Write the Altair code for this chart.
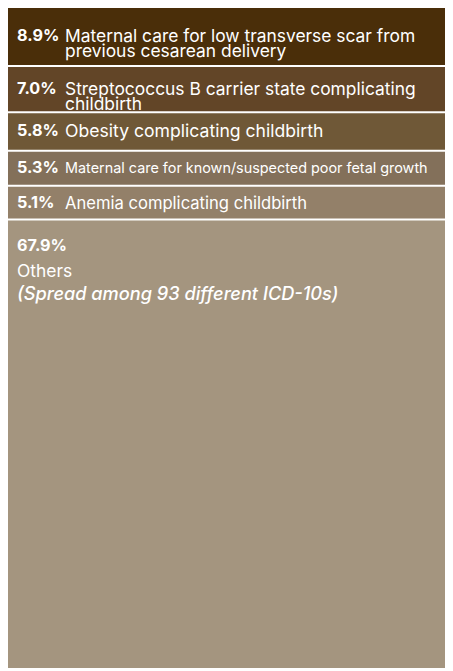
import altair as alt
import pandas as pd

categories = [
    "Maternal care for low transverse scar from\nprevious cesarean delivery",
    "Streptococcus B carrier state complicating\nchildbirth",
    "Obesity complicating childbirth",
    "Maternal care for known/suspected poor fetal growth",
    "Anemia complicating childbirth",
    "Others",
]
shares = [8.9, 7.0, 5.8, 5.3, 5.1, 67.9]
pct_labels = ["8.9%", "7.0%", "5.8%", "5.3%", "5.1%", "67.9%"]
colors = ["#4a2e09", "#624527", "#6f5837", "#83705a", "#938069", "#a4957f"]
label_sizes = [17.4, 17.4, 17.6, 14.4, 16.6, 17.4]
others_note = "(Spread among 93 different ICD-10s)"

rows = []
acc = 0.0
for i, (c, s, p, col, ls) in enumerate(zip(categories, shares, pct_labels, colors, label_sizes)):
    rows.append(dict(order=i, category=c, share=s, pct=p, color=col, lsize=ls,
                     start=acc, end=acc + s, mid=acc + s / 2,
                     note=others_note if c == "Others" else ""))
    acc += s
df = pd.DataFrame(rows)

W, H = 437, 662
yscale = alt.Scale(domain=[0, 100], range=[0, H])
FONT = "Inter"

base = alt.Chart(df)

rects = base.mark_rect(y2Offset=-2).encode(
    x=alt.value(0), x2=alt.value(W),
    y=alt.Y("start:Q", scale=yscale, axis=None),
    y2="end:Q",
    color=alt.Color("color:N", scale=None, legend=None),
)

top5 = base.transform_filter(alt.datum.order < 5)

pct_text = top5.mark_text(align="left", baseline="middle", font=FONT, fontWeight="bold",
                          fontSize=16.2, color="white", dy=-1).encode(
    x=alt.value(9),
    y=alt.Y("mid:Q", scale=yscale),
    text="pct:N",
)

lab_text = top5.mark_text(align="left", baseline="middle", font=FONT, color="white",
                          lineBreak="\n", lineHeight=15, dy=0).encode(
    x=alt.value(57),
    y=alt.Y("mid:Q", scale=yscale),
    text="category:N",
    size=alt.Size("lsize:Q", scale=None, legend=None),
)

oth = base.transform_filter(alt.datum.order == 5)
oth_pct = oth.mark_text(align="left", baseline="alphabetic", font=FONT, fontWeight="bold",
                        fontSize=16.2, color="white", dy=30).encode(
    x=alt.value(9), y=alt.Y("start:Q", scale=yscale), text="pct:N")
oth_lab = oth.mark_text(align="left", baseline="alphabetic", font=FONT,
                        fontSize=17.4, color="white", dy=56).encode(
    x=alt.value(9), y=alt.Y("start:Q", scale=yscale), text="category:N")
oth_note = oth.mark_text(align="left", baseline="alphabetic", font=FONT, fontStyle="italic",
                         fontWeight=500, fontSize=18.2, color="white", dy=79).encode(
    x=alt.value(9), y=alt.Y("start:Q", scale=yscale), text="note:N")

chart = alt.layer(rects, pct_text, lab_text, oth_pct, oth_lab, oth_note).properties(
    width=W, height=H, padding=0, autosize=alt.AutoSizeParams(type="none")
).configure_view(stroke=None)

chart.save("out.html", embed_options={"renderer": "svg", "actions": False})
